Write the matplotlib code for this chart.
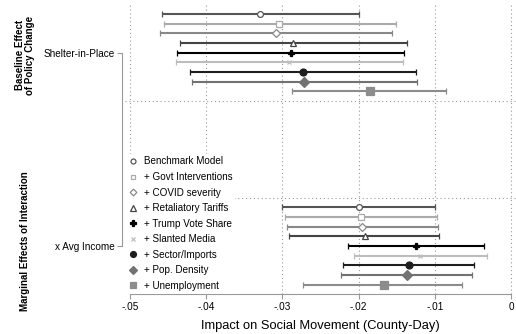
import numpy as np
import matplotlib as mpl

mpl.use('agg')

import matplotlib.pyplot as plt
from matplotlib.lines import Line2D

plt.rcParams['font.family'] = ['Liberation Sans', 'DejaVu Sans']

## Coefficients and 95% bounds, one entry per specification
models = [
    "Benchmark Model",
    "+ Govt Interventions",
    "+ COVID severity",
    "+ Retaliatory Tariffs",
    "+ Trump Vote Share",
    "+ Slanted Media",
    "+ Sector/Imports",
    "+ Pop. Density",
    "+ Unemployment",
]
terms = ["Shelter-in-Place", "x Avg Income"]

# Shelter-in-Place (baseline effect)
sip_est = [-0.0329, -0.0304, -0.0309, -0.0286, -0.0289, -0.0291, -0.0273, -0.0271, -0.0185]
sip_lo = [-0.0458, -0.0456, -0.0461, -0.0435, -0.0438, -0.0440, -0.0421, -0.0419, -0.0287]
sip_hi = [-0.0199, -0.0151, -0.0156, -0.0136, -0.0141, -0.0142, -0.0125, -0.0123, -0.0085]

# Interaction with average income
inc_est = [-0.0200, -0.0197, -0.0195, -0.0192, -0.0125, -0.0119, -0.0134, -0.0136, -0.0167]
inc_lo = [-0.0300, -0.0297, -0.0294, -0.0291, -0.0214, -0.0206, -0.0221, -0.0223, -0.0273]
inc_hi = [-0.0100, -0.0097, -0.0096, -0.0094, -0.0035, -0.0031, -0.0048, -0.0051, -0.0064]

xticks = [-0.05, -0.04, -0.03, -0.02, -0.01, 0.0]
xtick_labels = ["-.05", "-.04", "-.03", "-.02", "-.01", "0"]

## Styles per specification
colors = ['#555555', '#aaaaaa', '#888888', '#444444', '#000000',
          '#bdbdbd', '#1e1e1e', '#727272', '#8c8c8c']
markers = ['o', 's', 'D', '^', 'P', 'x', 'o', 'D', 's']
filled = [False, False, False, False, True, True, True, True, True]
msizes = [4.2, 4.2, 4.0, 4.5, 5.0, 3.5, 5.0, 5.0, 5.2]

fig = plt.figure(figsize=(5.16, 3.34), dpi=100)
ax = fig.add_axes([0.2422, 0.1198, 0.7578, 0.8653])

offsets = (np.arange(len(models)) - 4) * 0.05
groups = [(sip_est, sip_lo, sip_hi), (inc_est, inc_lo, inc_hi)]

for g, (est, lo, hi) in enumerate(groups):
    est = np.asarray(est)
    err = [est - np.asarray(lo), np.asarray(hi) - est]
    for i in range(len(models)):
        face = colors[i] if filled[i] else 'white'
        ax.errorbar(est[i], g + 1 + offsets[i],
                    xerr=[[err[0][i]], [err[1][i]]],
                    color=colors[i], elinewidth=1.5, capsize=2.2, capthick=1.0,
                    marker=markers[i], markersize=msizes[i],
                    markerfacecolor=face, markeredgecolor=colors[i],
                    markeredgewidth=0.9, zorder=3)

## Dotted grid
for xv in xticks:
    ax.axvline(xv, color='#999999', linestyle=(0, (1, 2.5)), linewidth=0.8, zorder=1)
for yv in [1.25, 1.75]:
    ax.axhline(yv, color='#999999', linestyle=(0, (1, 2.5)), linewidth=0.8, zorder=1)

ax.set_xlim(-0.050656, 0.000656)
ax.set_ylim(2.248, 0.753)

## Stata-style axes: lines only between the outer ticks
for s in ['top', 'right']:
    ax.spines[s].set_visible(False)
ax.spines['left'].set_position(('outward', 2.2))
ax.spines['left'].set_bounds(1, 2)
ax.spines['bottom'].set_bounds(-0.05, 0.0)
for s in ['left', 'bottom']:
    ax.spines[s].set_color('#999999')
    ax.spines[s].set_linewidth(0.8)

ax.set_xticks(xticks)
ax.set_xticklabels(xtick_labels)
ax.set_yticks([1, 2])
ax.set_yticklabels(terms)
ax.tick_params(axis='both', colors='#999999', labelcolor='black', labelsize=7.2,
               length=3.5, width=0.8)
ax.tick_params(axis='x', pad=2.5)
ax.tick_params(axis='y', pad=1.5)

ax.set_xlabel("Impact on Social Movement (County-Day)", fontsize=9.3, labelpad=5.5)

## Group headers on the far left
fig.text(0.048, 1 - 55 / 334, "Baseline Effect\nof Policy Change", rotation=90,
         ha='center', va='center', fontsize=7, fontweight='bold', linespacing=1.0)
fig.text(0.048, 1 - 241 / 334, "Marginal Effects of Interaction", rotation=90,
         ha='center', va='center', fontsize=7, fontweight='bold')

## Legend with marker-only handles
handles = [Line2D([], [], linestyle='none', marker=markers[i], markersize=msizes[i] * 0.85,
                  color=colors[i], markerfacecolor=colors[i] if filled[i] else 'white',
                  markeredgecolor=colors[i], markeredgewidth=0.9)
           for i in range(len(models))]
leg = ax.legend(handles, models, loc='upper left', bbox_to_anchor=(0.0, 0.486),
                fontsize=7.1, frameon=True, facecolor='white', edgecolor='none',
                framealpha=1, handlelength=1.0, handletextpad=0.6,
                labelspacing=0.56, borderpad=0.3, borderaxespad=0.0)
leg.set_zorder(5)

fig.savefig('out.png', dpi=100)
